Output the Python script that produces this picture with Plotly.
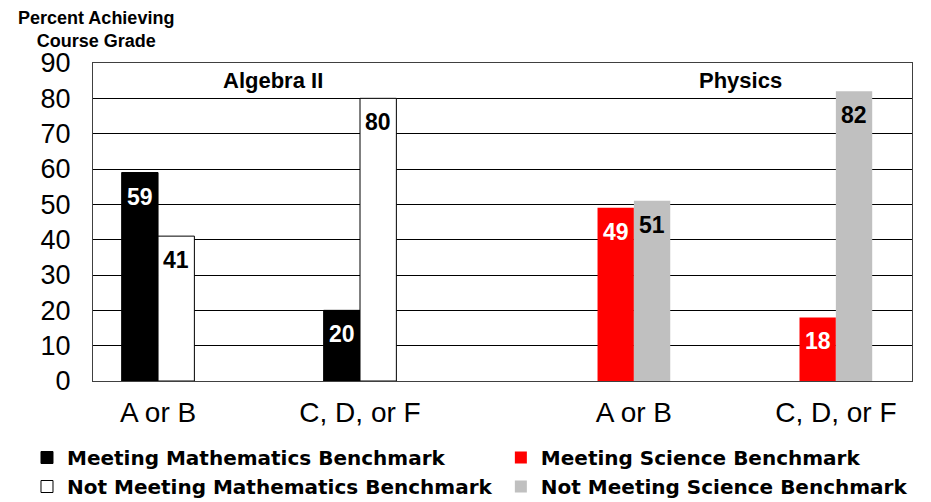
import plotly.graph_objects as go

grades = ["A or B", "C, D, or F"]
algebra_meeting = [59, 20]
algebra_not_meeting = [41, 80]
physics_meeting = [49, 18]
physics_not_meeting = [51, 82]
y_ticks = [0, 10, 20, 30, 40, 50, 60, 70, 80, 90]

# group positions on the x axis (Algebra II groups, then Physics groups)
alg_pos = [0, 1]
phy_shift = 2.356
phy_pos = [p + phy_shift for p in alg_pos]

FONT = "Arial, Liberation Sans, sans-serif"
BW = 0.18

fig = go.Figure()
labels = []

def add_bar(x, y, name, fill, line_w, txtcolor, offset, legend):
    fig.add_trace(go.Bar(
        x=x, y=y, name=name, width=BW, offset=offset,
        marker=dict(color=fill, line=dict(color="black", width=line_w)),
        legend=legend, hoverinfo="x+y",
    ))
    for xi, yi in zip(x, y):
        labels.append(dict(
            x=xi + offset + BW / 2, y=yi, xref="x", yref="y", text=str(yi),
            showarrow=False, yanchor="top", yshift=-9,
            font=dict(family=FONT, size=23, color=txtcolor, weight="bold"),
        ))

add_bar(alg_pos, algebra_meeting, "Meeting Mathematics Benchmark", "black", 1, "white", -BW, "legend")
add_bar(alg_pos, algebra_not_meeting, "Not Meeting Mathematics Benchmark", "white", 1, "black", 0, "legend")
add_bar(phy_pos, physics_meeting, "Meeting Science Benchmark", "#FF0000", 0, "white", -BW, "legend2")
add_bar(phy_pos, physics_not_meeting, "Not Meeting Science Benchmark", "#C0C0C0", 0, "black", 0, "legend2")

legend_font = dict(family="DejaVu Sans, Arial, sans-serif", size=20, color="black", weight="bold")
leg_y = -125 / 318

fig.update_layout(
    width=931, height=502,
    margin=dict(l=85, r=27, t=55, b=129, autoexpand=False),
    paper_bgcolor="white", plot_bgcolor="white",
    barmode="overlay",
    font=dict(family=FONT, color="black"),
    showlegend=True,
    legend=dict(
        orientation="v", x=-0.0806, xanchor="left", y=leg_y, yanchor="bottom",
        font=legend_font, traceorder="normal", tracegroupgap=0,
        bgcolor="rgba(0,0,0,0)",
    ),
    legend2=dict(
        orientation="v", x=0.498, xanchor="left", y=leg_y, yanchor="bottom",
        font=legend_font, traceorder="normal", tracegroupgap=0,
        bgcolor="rgba(0,0,0,0)",
    ),
    xaxis=dict(
        range=[-0.322, 3.733], automargin=False,
        tickmode="array", tickvals=alg_pos + phy_pos, ticktext=grades + grades,
        tickfont=dict(family=FONT, size=28, color="black"),
        showgrid=False, zeroline=False,
        showline=True, linecolor="#404040", linewidth=1, mirror=True,
        ticks="", ticklen=0, ticklabelstandoff=6,
    ),
    yaxis=dict(
        range=[0, 90], tickmode="array", tickvals=y_ticks, automargin=False,
        tickfont=dict(family=FONT, size=27, color="black"),
        showgrid=True, gridcolor="black", gridwidth=1,
        zeroline=False, showline=True, linecolor="#404040", linewidth=1, mirror=True,
        ticks="", ticklen=0, ticklabelstandoff=16,
    ),
    annotations=labels + [
        dict(text="Percent Achieving<br>Course Grade", xref="paper", yref="paper",
             x=0.0037, y=1.03, xanchor="center", yanchor="bottom", showarrow=False,
             font=dict(family=FONT, size=18, color="black", weight="bold")),
        dict(text="Algebra II", xref="x", yref="paper", x=0.57, y=0.9465,
             xanchor="center", yanchor="middle",
             showarrow=False, font=dict(family=FONT, size=22, color="black", weight="bold")),
        dict(text="Physics", xref="x", yref="paper", x=phy_shift + 0.53, y=0.9465,
             xanchor="center", yanchor="middle",
             showarrow=False, font=dict(family=FONT, size=22, color="black", weight="bold")),
    ],
)

fig.write_html("out.html")
